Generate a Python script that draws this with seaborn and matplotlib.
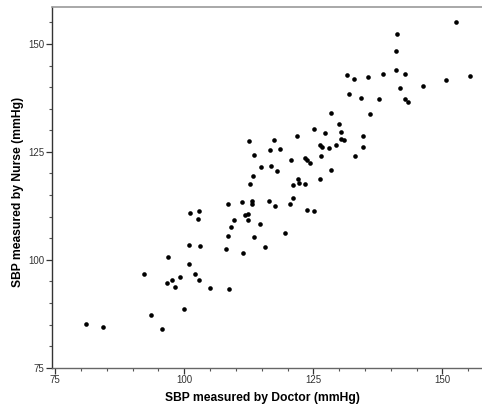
import matplotlib
matplotlib.use("Agg")
import matplotlib.pyplot as plt
import seaborn as sns
import pandas as pd
from matplotlib.ticker import MultipleLocator

sbp_doctor = [81.0, 84.2, 92.1, 93.5, 95.6, 96.7, 96.9, 97.7, 98.2, 99.1,
              99.9, 100.9, 101.0, 101.2, 102.1, 102.8, 102.7, 102.8, 103.0, 105.0,
              108.1, 108.4, 108.5, 108.7, 109.05, 109.6, 111.1, 111.4, 111.7, 112.3,
              112.3, 112.5, 112.8, 113.1, 113.1, 113.3, 113.5, 113.6, 114.6, 114.9,
              115.6, 116.5, 116.7, 116.8, 117.4, 117.6, 118.0, 118.5, 119.5, 120.4,
              120.7, 121.1, 121.1, 121.9, 122.0, 122.2, 123.3, 123.45, 123.7, 124.3,
              123.7, 125.1, 125.2, 126.2, 126.6, 126.55, 126.2, 127.3, 128.1, 128.5,
              128.5, 129.4, 130.0, 130.3, 130.3, 130.95, 131.5, 131.9, 132.9, 133.1,
              134.3, 134.7, 134.7, 135.6, 136.0, 137.8, 138.6, 141.1, 141.0, 141.3,
              141.8, 142.8, 142.8, 143.3, 146.2, 150.7, 152.7, 155.4]
sbp_nurse = [85.2, 84.4, 96.8, 87.1, 84.0, 94.7, 100.6, 95.4, 93.7, 96.0,
             88.6, 99.0, 103.5, 110.8, 96.6, 111.3, 109.4, 95.4, 103.3, 93.5,
             102.4, 113.0, 105.6, 93.2, 107.5, 109.2, 113.4, 101.5, 110.4, 110.5,
             109.2, 127.5, 117.5, 113.7, 113.0, 119.3, 124.2, 105.3, 108.2, 121.4,
             102.85, 113.6, 125.4, 121.8, 127.8, 112.5, 120.5, 125.7, 106.1, 112.9,
             123.1, 117.3, 114.3, 128.6, 118.8, 117.9, 117.6, 123.5, 123.05, 122.4,
             111.6, 130.3, 111.4, 126.5, 126.2, 124.1, 118.7, 129.3, 125.9, 120.7,
             134.0, 126.7, 131.5, 129.5, 128.1, 127.8, 142.7, 138.3, 141.8, 124.1,
             137.4, 128.75, 126.1, 142.4, 133.85, 137.3, 143.1, 144.0, 148.4, 152.25,
             139.7, 143.0, 137.2, 136.6, 140.3, 141.7, 155.0, 142.6]

x_ticks = [75, 100, 125, 150]
y_ticks = [75, 100, 125, 150]
x_label = "SBP measured by Doctor (mmHg)"
y_label = "SBP measured by Nurse (mmHg)"

df = pd.DataFrame({"doctor": sbp_doctor, "nurse": sbp_nurse})

sns.set_style("ticks")
plt.rcParams["font.family"] = ["Liberation Sans", "DejaVu Sans"]

W, H = 482, 405
fig = plt.figure(figsize=(W / 100, H / 100), dpi=100)
left, right, top, bottom = 52.3, 482.0, 6.7, 367.7
ax = fig.add_axes([left / W, 1 - bottom / H, (right - left) / W, (bottom - top) / H])

sns.scatterplot(data=df, x="doctor", y="nurse", ax=ax, color="black",
                s=11, linewidth=0, legend=False)

ax.set_xlim(74.42, 157.69)
ax.set_ylim(75.0, 158.64)
ax.set_xticks(x_ticks)
ax.set_yticks(y_ticks)
ax.xaxis.set_minor_locator(MultipleLocator(5))
ax.yaxis.set_minor_locator(MultipleLocator(5))
ax.tick_params(axis="both", which="major", length=4, width=0.9, color="#333333",
               labelsize=7, labelcolor="#333333", pad=1.5)
ax.tick_params(axis="both", which="minor", length=2.2, width=0.8, color="#555555")

for side in ["left", "bottom", "top", "right"]:
    ax.spines[side].set_visible(True)
ax.spines["left"].set_color("#333333")
ax.spines["left"].set_linewidth(1.0)
ax.spines["bottom"].set_color("#666666")
ax.spines["bottom"].set_linewidth(1.0)
ax.spines["top"].set_color("#999999")
ax.spines["top"].set_linewidth(1.2)
ax.spines["right"].set_visible(False)

ax.set_xlabel(x_label, fontsize=8.7, fontweight="bold", color="black")
ax.set_ylabel(y_label, fontsize=8.7, fontweight="bold", color="black")
ax.xaxis.label.set_verticalalignment("center")
ax.yaxis.label.set_verticalalignment("center")
ax.xaxis.set_label_coords((262.5 - left) / (right - left), -(398 - bottom) / (bottom - top))
ax.yaxis.set_label_coords(-(left - 18) / (right - left), (bottom - 192) / (bottom - top))

fig.savefig("out.png", dpi=100)
